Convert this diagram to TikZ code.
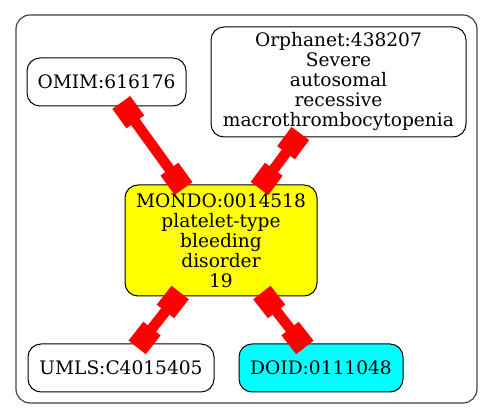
\documentclass[tikz,border=0pt]{standalone}
\usepackage{fontspec}
\setmainfont{DejaVu Serif}
\usetikzlibrary{arrows.meta}
\definecolor{gvred}{RGB}{255,0,0}
\definecolor{gvyellow}{RGB}{255,255,0}
\definecolor{gvcyan}{RGB}{0,255,255}
\definecolor{gvframe}{RGB}{68,68,68}
\begin{document}
\begin{tikzpicture}[x=1pt,y=-1pt,
  nd/.style={draw=black, line width=1pt, rounded corners=13pt, inner sep=0pt, align=center,
    font=\fontsize{18.6}{20}\selectfont},
  lnk/.style={draw=gvred, line width=10.5pt,
    {Square[length=24pt,width=22pt]}-{Square[length=24pt,width=22pt]},
    shorten <=-5pt, shorten >=-5pt}]
\useasboundingbox (0,0) rectangle (493,419);
\draw[gvframe, line width=1.2pt, rounded corners=14pt] (16,15) rectangle (477,403);
\node[nd, minimum width=159pt, minimum height=48pt] (omim) at (106.5,82) {OMIM:616176};
\node[nd, minimum width=255pt, minimum height=110pt] (orpha) at (338.5,82)
  {Orphanet:438207\\Severe\\autosomal\\recessive\\macrothrombocytopenia};
\node[nd, fill=gvyellow, minimum width=192pt, minimum height=111pt] (mondo) at (221,240.5)
  {MONDO:0014518\\platelet-type\\bleeding\\disorder\\19};
\node[nd, minimum width=186pt, minimum height=48pt] (umls) at (121,368) {UMLS:C4015405};
\node[nd, fill=gvcyan, minimum width=164pt, minimum height=48pt] (doid) at (321,368) {DOID:0111048};
\draw[lnk] (omim) -- (mondo);
\draw[lnk] (orpha) -- (mondo);
\draw[lnk] (mondo) -- (umls);
\draw[lnk] (mondo) -- (doid);
\end{tikzpicture}
\end{document}
